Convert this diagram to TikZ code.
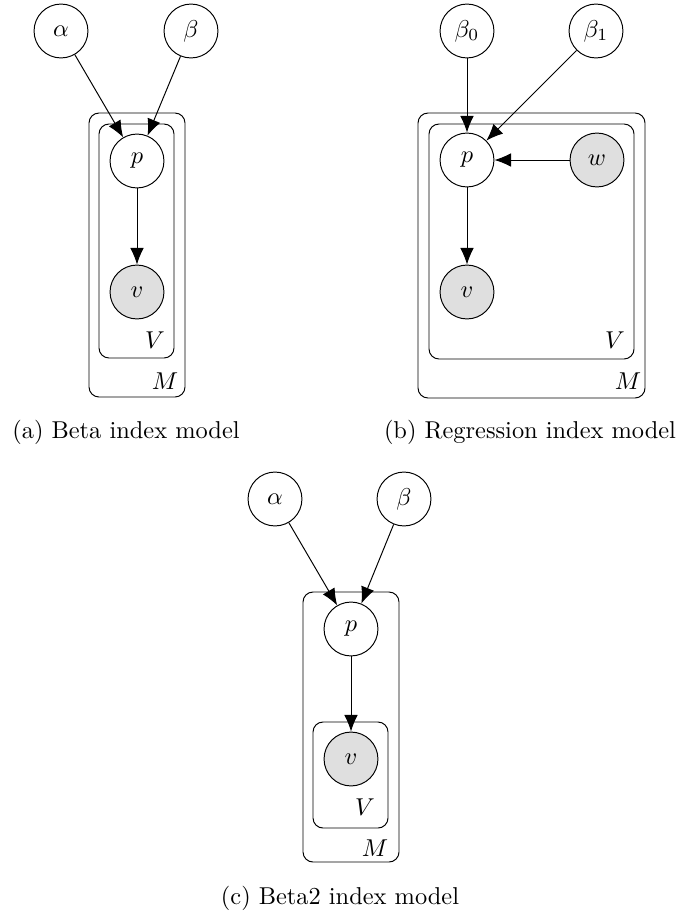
\documentclass[tikz,border=0pt]{standalone}
\usetikzlibrary{arrows.meta,fit}

\tikzset{
  latent/.style={circle, draw, minimum size=22.1pt, inner sep=0pt},
  obs/.style={latent, fill=gray!25},
  plate/.style={draw, rounded corners=4.1pt, inner sep=0pt},
  edge/.style={-{Latex[length=6.8pt,width=5.6pt]}},
  captext/.style={inner sep=0pt}
}

\begin{document}
\begin{tikzpicture}[x=0.41pt, y=-0.41pt]
  \useasboundingbox (0,0) rectangle (680,916);

  % (a) Beta index model
  \node[latent] (aa) at (61,31) {$\alpha$};
  \node[latent] (ab) at (191,31) {$\beta$};
  \node[latent] (ap) at (137,161) {$p$};
  \node[obs]    (av) at (137,292) {$v$};
  \node[plate, fit={(89,113) (185,397)}] (aM) {};
  \node[plate, fit={(99,124) (174,358)}] (aV) {};
  \node (aVl) at (155,340) {$V$};
  \node (aMl) at (165,381) {$M$};
  \draw[edge] (aa) -- (ap);
  \draw[edge] (ab) -- (ap);
  \draw[edge] (ap) -- (av);
  \node[captext] (acap) at (126,432) {(a) Beta index model};

  % (b) Regression index model
  \node[latent] (b0) at (467,31) {$\beta_0$};
  \node[latent] (b1) at (596,31) {$\beta_1$};
  \node[latent] (bp) at (467,160) {$p$};
  \node[obs]    (bw) at (597,160) {$w$};
  \node[obs]    (bv) at (467,292) {$v$};
  \node[plate, fit={(418,113) (645,398)}] (bM) {};
  \node[plate, fit={(429,124) (634,359)}] (bV) {};
  \node (bVl) at (615,340) {$V$};
  \node (bMl) at (628,381) {$M$};
  \draw[edge] (b0) -- (bp);
  \draw[edge] (b1) -- (bp);
  \draw[edge] (bw) -- (bp);
  \draw[edge] (bp) -- (bv);
  \node[captext] (bcap) at (530,432) {(b) Regression index model};

  % (c) Beta2 index model
  \node[latent] (ca) at (275,499) {$\alpha$};
  \node[latent] (cb) at (404,499) {$\beta$};
  \node[latent] (cp) at (351,629) {$p$};
  \node[obs]    (cv) at (351,759) {$v$};
  \node[plate, fit={(303,592) (399,862)}] (cM) {};
  \node[plate, fit={(313,722) (388,828)}] (cV) {};
  \node (cVl) at (365,807) {$V$};
  \node (cMl) at (375,848) {$M$};
  \draw[edge] (ca) -- (cp);
  \draw[edge] (cb) -- (cp);
  \draw[edge] (cp) -- (cv);
  \node[captext] (ccap) at (340,898) {(c) Beta2 index model};
\end{tikzpicture}
\end{document}
